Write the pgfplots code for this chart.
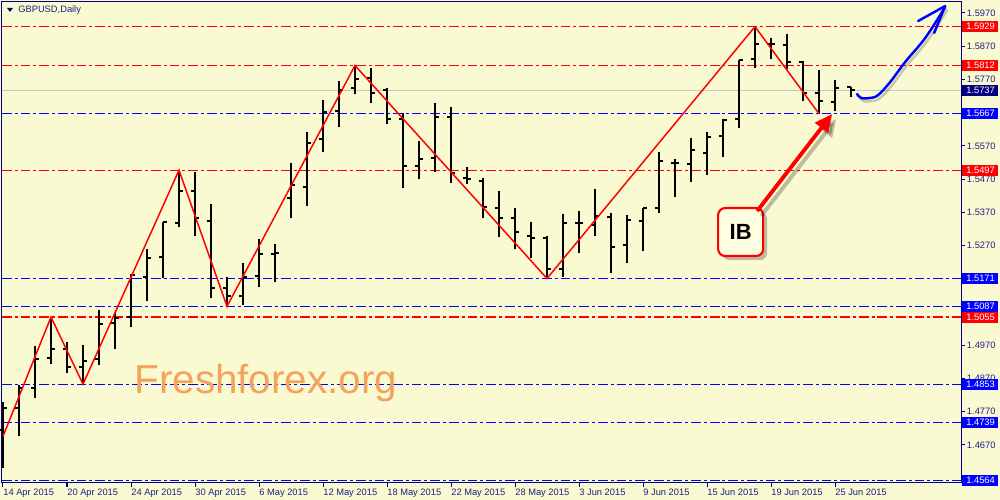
\documentclass[border=0pt]{standalone}
\usepackage{pgfplots}
\pgfplotsset{compat=1.18}
\usepackage{pgfplotstable}
\usepackage{fontspec}
\setmainfont{Liberation Sans}
\usetikzlibrary{arrows.meta}
\definecolor{mtBg}{HTML}{FAFAD2}
\definecolor{mtAxis}{HTML}{000080}
\definecolor{mtText}{HTML}{1E1E82}
\definecolor{mtRed}{HTML}{FF0000}
\definecolor{mtBlue}{HTML}{0000FF}
\definecolor{mtGray}{HTML}{C8C8C8}
\definecolor{mtOrange}{HTML}{F5A25E}
\definecolor{ibFill}{HTML}{FFFFE0}
\newcommand\tf{\fontsize{5.3}{6}\selectfont}

% daily bars: index, open, high, low, close
\pgfplotstableread{
i o h l c
0 1.4715 1.4799 1.4601 1.4781
1 1.4781 1.4851 1.4697 1.4842
2 1.4842 1.4968 1.4811 1.4929
3 1.4932 1.5055 1.4914 1.4959
4 1.4959 1.4980 1.4887 1.4905
5 1.4905 1.4971 1.4853 1.4923
6 1.4929 1.5076 1.4911 1.5034
7 1.5037 1.5067 1.4959 1.5052
8 1.5055 1.5185 1.5025 1.5182
9 1.5176 1.5260 1.5103 1.5233
10 1.5236 1.5341 1.5173 1.5341
11 1.5338 1.5497 1.5326 1.5434
12 1.5434 1.5492 1.5299 1.5353
13 1.5344 1.5395 1.5112 1.5142
14 1.5142 1.5176 1.5087 1.5118
15 1.5118 1.5218 1.5090 1.5176
16 1.5179 1.5290 1.5145 1.5245
17 1.5245 1.5275 1.5161 1.5248
18 1.5413 1.5519 1.5353 1.5452
19 1.5446 1.5612 1.5389 1.5579
20 1.5591 1.5708 1.5552 1.5672
21 1.5675 1.5765 1.5627 1.5738
22 1.5744 1.5812 1.5726 1.5771
23 1.5774 1.5804 1.5699 1.5729
24 1.5738 1.5744 1.5636 1.5651
25 1.5651 1.5669 1.5443 1.5510
26 1.5510 1.5585 1.5470 1.5531
27 1.5534 1.5699 1.5492 1.5657
28 1.5657 1.5687 1.5458 1.5489
29 1.5474 1.5507 1.5455 1.5470
30 1.5464 1.5474 1.5353 1.5386
31 1.5383 1.5434 1.5296 1.5353
32 1.5353 1.5383 1.5260 1.5311
33 1.5299 1.5341 1.5233 1.5293
34 1.5293 1.5299 1.5171 1.5200
35 1.5200 1.5365 1.5176 1.5338
36 1.5338 1.5374 1.5248 1.5338
37 1.5332 1.5440 1.5299 1.5359
38 1.5356 1.5368 1.5188 1.5266
39 1.5272 1.5362 1.5218 1.5347
40 1.5344 1.5383 1.5254 1.5383
41 1.5383 1.5552 1.5368 1.5525
42 1.5519 1.5531 1.5416 1.5519
43 1.5516 1.5594 1.5461 1.5558
44 1.5549 1.5612 1.5483 1.5597
45 1.5600 1.5651 1.5537 1.5648
46 1.5651 1.5829 1.5624 1.5829
47 1.5832 1.5929 1.5804 1.5877
48 1.5877 1.5895 1.5832 1.5877
49 1.5874 1.5907 1.5802 1.5823
50 1.5823 1.5826 1.5705 1.5729
51 1.5729 1.5798 1.5667 1.5705
52 1.5702 1.5768 1.5675 1.5744
53 1.5747 1.5747 1.5717 1.5737
}\ohlc

\tikzset{
  lvl/.style={line width=0.62pt, dash pattern=on 5.5pt off 1.7pt on 1.7pt off 1.7pt},
  pbox/.style={anchor=west, xshift=0.02cm, inner xsep=0.08cm, inner ysep=0pt,
    text width=0.56cm, minimum height=0.22cm, text=white, font=\tf},
}
\pgfplotsset{
  barpart/.style={black, only marks, mark=*, mark options={draw opacity=0, fill opacity=0, scale=0.01}},
}

\begin{document}
\begin{tikzpicture}
\useasboundingbox[fill=mtBg] (-0.04cm,-0.34cm) rectangle (19.96cm,9.66cm);
\begin{axis}[
  at={(0,0)}, anchor=south west,
  scale only axis, width=19.18cm, height=9.62cm,
  xmin=-0.0625, xmax=59.875, ymin=1.455562, ymax=1.60031,
  clip=false,
  axis line style={mtAxis, line width=0.57pt},
  xtick={0,4,8,12,16,20,24,28,32,36,40,44,48,52},
  xticklabels={14 Apr 2015,20 Apr 2015,24 Apr 2015,30 Apr 2015,6 May 2015,12 May 2015,18 May 2015,22 May 2015,28 May 2015,3 Jun 2015,9 Jun 2015,15 Jun 2015,19 Jun 2015,25 Jun 2015},
  ytick={1.4670,1.4770,1.4870,1.4970,1.5070,1.5170,1.5270,1.5370,1.5470,1.5570,1.5670,1.5770,1.5870,1.5970},
  xtick pos=left, ytick pos=right, yticklabel pos=right,
  tick align=outside, major tick length=2.2pt,
  tick style={mtAxis, line width=0.57pt},
  scaled y ticks=false,
  /pgf/number format/assume math mode=true,
  yticklabel style={/pgf/number format/fixed, /pgf/number format/fixed zerofill,
    /pgf/number format/precision=4, anchor=west, inner xsep=1pt},
  ticklabel style={font=\tf, text=mtText},
  xticklabel style={anchor=north west, inner xsep=0pt, inner ysep=1.2pt},
]
% support / resistance levels
\addplot[mtRed, lvl] coordinates {(-0.0625,1.5929) (59.875,1.5929)};
\addplot[mtRed, lvl] coordinates {(-0.0625,1.5812) (59.875,1.5812)};
\addplot[mtRed, lvl] coordinates {(-0.0625,1.5497) (59.875,1.5497)};
\addplot[mtRed, lvl] coordinates {(-0.0625,1.5055) (59.875,1.5055)};
\addplot[mtBlue, lvl] coordinates {(-0.0625,1.5667) (59.875,1.5667)};
\addplot[mtBlue, lvl] coordinates {(-0.0625,1.5171) (59.875,1.5171)};
\addplot[mtBlue, lvl] coordinates {(-0.0625,1.5087) (59.875,1.5087)};
\addplot[mtBlue, lvl] coordinates {(-0.0625,1.4853) (59.875,1.4853)};
\addplot[mtBlue, lvl] coordinates {(-0.0625,1.4739) (59.875,1.4739)};
\addplot[mtBlue, lvl] coordinates {(-0.0625,1.4564) (59.875,1.4564)};
\addplot[mtGray, line width=0.57pt] coordinates {(-0.0625,1.5737) (59.875,1.5737)};

% OHLC bars: high-low, open tick, close tick
\addplot[barpart,
  error bars/.cd, y dir=minus, y explicit, error mark=none,
  error bar style={line width=1.25pt, solid, opacity=1}]
  table[x=i, y=h, y error expr=\thisrow{h}-\thisrow{l}] {\ohlc};
\addplot[barpart,
  error bars/.cd, x dir=minus, x fixed=0.27, error mark=none,
  error bar style={line width=1.2pt, solid, opacity=1}]
  table[x=i, y=o] {\ohlc};
\addplot[barpart,
  error bars/.cd, x dir=plus, x fixed=0.27, error mark=none,
  error bar style={line width=1.2pt, solid, opacity=1}]
  table[x=i, y=c] {\ohlc};

% zigzag
\addplot[mtRed, line width=0.85pt] coordinates {
  (0,1.4696) (3,1.5055) (5,1.4853) (11,1.5497) (14,1.5087)
  (22,1.5812) (34,1.5171) (47,1.5929) (51,1.5667)};

\coordinate (p5929) at (axis cs:59.875,1.5929);
\coordinate (p5812) at (axis cs:59.875,1.5812);
\coordinate (p5737) at (axis cs:59.875,1.5737);
\coordinate (p5667) at (axis cs:59.875,1.5667);
\coordinate (p5497) at (axis cs:59.875,1.5497);
\coordinate (p5171) at (axis cs:59.875,1.5171);
\coordinate (p5087) at (axis cs:59.875,1.5087);
\coordinate (p5055) at (axis cs:59.875,1.5055);
\coordinate (p4853) at (axis cs:59.875,1.4853);
\coordinate (p4739) at (axis cs:59.875,1.4739);
\coordinate (p4564) at (axis cs:59.875,1.4564);
\end{axis}

% price boxes on the right scale
\node[pbox, fill=mtRed] at (p5929) {1.5929};
\node[pbox, fill=mtRed] at (p5812) {1.5812};
\node[pbox, fill=mtAxis] at (p5737) {1.5737};
\node[pbox, fill=mtBlue] at (p5667) {1.5667};
\node[pbox, fill=mtRed] at (p5497) {1.5497};
\node[pbox, fill=mtBlue] at (p5171) {1.5171};
\node[pbox, fill=mtBlue] at (p5087) {1.5087};
\node[pbox, fill=mtRed] at (p5055) {1.5055};
\node[pbox, fill=mtBlue] at (p4853) {1.4853};
\node[pbox, fill=mtBlue] at (p4739) {1.4739};
\node[pbox, fill=mtBlue] at (p4564) {1.4564};

% annotations, in screen pixels
\begin{scope}[x=0.02cm, y=-0.02cm, shift={(-0.04cm,9.66cm)}]
  \fill[mtAxis] (7,8) -- (13,8) -- (10,12) -- cycle;
  \node[anchor=west, inner sep=0, font=\tf, text=mtText] at (18,10) {GBPUSD,Daily};
  \node[anchor=base west, inner sep=0, font=\fontsize{23}{26}\selectfont, text=mtOrange] at (134,393) {Freshforex.org};
  % IB box with shadow
  \fill[black, opacity=0.25, rounded corners=4pt] (722,212) rectangle (767,260);
  \filldraw[fill=ibFill, draw=mtRed, line width=1.2pt, rounded corners=4pt] (718,208) rectangle (763,256);
  \node[font=\fontsize{12.5}{15}\selectfont\bfseries] at (740.5,232) {IB};
  % red arrow
  \draw[black, opacity=0.25, line width=2.2pt, -{Triangle[length=10pt, width=9pt]}] (761,216) -- (836,119);
  \draw[mtRed, line width=2.2pt, -{Triangle[length=10pt, width=9pt]}] (757,211) -- (832,114);
  % blue hand-drawn arrow
  \draw[black, opacity=0.2, line width=1.4pt, line cap=round] plot[smooth, tension=0.6] coordinates {(859,97) (863,101) (872,101) (880,98) (892,85) (907,65) (927,41) (947,10)};
  \draw[mtBlue, line width=1.4pt, line cap=round, line join=round] plot[smooth, tension=0.6] coordinates {(857,94) (861,98) (870,98) (878,95) (890,82) (905,62) (925,38) (945,7)};
  \draw[mtBlue, line width=1.4pt, line cap=round, line join=round] (918,21) -- (945,6) -- (934,33);
\end{scope}
\end{tikzpicture}
\end{document}
